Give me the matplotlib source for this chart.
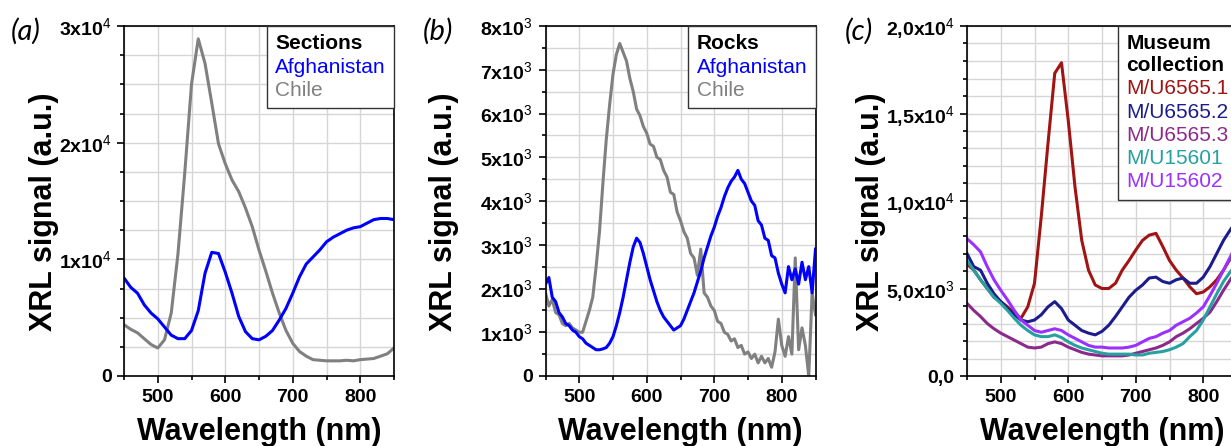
import numpy as np
import matplotlib
matplotlib.use("Agg")
import matplotlib.pyplot as plt
from matplotlib.lines import Line2D
from matplotlib.ticker import MultipleLocator, FixedLocator, FixedFormatter

plt.rcParams['font.family'] = 'Liberation Sans'
plt.rcParams['mathtext.fontset'] = 'custom'
plt.rcParams['mathtext.rm'] = 'Liberation Sans'
plt.rcParams['mathtext.it'] = 'Liberation Sans:italic'
plt.rcParams['mathtext.bf'] = 'Liberation Sans:bold'

# ---- data ----
wl_a = list(range(450, 851, 10))
a_chile = [4.4, 4.0, 3.7, 3.2, 2.7, 2.4, 3.1, 5.4, 10.5, 17.4, 25.0, 28.9, 26.8, 23.4,
           19.9, 18.2, 16.8, 15.8, 14.4, 12.8, 10.8, 9.0, 7.1, 5.4, 3.9, 2.8, 2.1, 1.7,
           1.4, 1.35, 1.3, 1.3, 1.3, 1.35, 1.3, 1.4, 1.45, 1.5, 1.7, 1.9, 2.4]
a_afgh = [8.4, 7.6, 7.1, 6.1, 5.4, 4.9, 4.2, 3.5, 3.2, 3.2, 3.9, 5.6, 8.8, 10.6, 10.5,
          8.9, 7.1, 5.1, 3.8, 3.2, 3.1, 3.4, 3.9, 4.8, 5.8, 7.1, 8.5, 9.6, 10.2, 10.8,
          11.5, 11.9, 12.2, 12.5, 12.7, 12.8, 13.1, 13.4, 13.5, 13.5, 13.4]

wl_b = list(range(450, 851, 5))
b_chile = [1.9, 1.6, 1.75, 1.45, 1.4, 1.2, 1.15, 1.2, 1.1, 1.05, 1.0, 1.0, 1.25, 1.5,
           1.8, 2.5, 3.3, 4.4, 5.4, 6.2, 6.9, 7.35, 7.6, 7.4, 7.2, 6.8, 6.5, 6.1, 5.95,
           5.7, 5.55, 5.3, 5.25, 5.0, 4.95, 4.7, 4.55, 4.2, 4.15, 3.75, 3.55, 3.3, 3.15,
           2.8, 2.7, 2.3, 2.9, 1.9, 1.8, 1.6, 1.5, 1.25, 1.2, 1.0, 0.95, 0.8, 0.85, 0.65,
           0.7, 0.5, 0.55, 0.4, 0.5, 0.3, 0.45, 0.3, 0.4, 0.2, 0.55, 1.3, 0.7, 0.45, 0.9,
           0.5, 2.7, 0.6, 1.1, 0.7, 0.0, 1.9, 1.4]
b_afgh = [2.1, 2.25, 1.8, 1.7, 1.45, 1.35, 1.2, 1.15, 1.05, 1.0, 0.9, 0.85, 0.75, 0.7,
          0.65, 0.6, 0.6, 0.62, 0.65, 0.75, 0.9, 1.15, 1.45, 1.8, 2.2, 2.6, 2.95, 3.15,
          3.05, 2.8, 2.5, 2.2, 1.95, 1.7, 1.5, 1.35, 1.25, 1.15, 1.05, 1.1, 1.15, 1.3,
          1.5, 1.7, 1.9, 2.15, 2.4, 2.7, 2.95, 3.2, 3.4, 3.65, 3.85, 4.1, 4.3, 4.45,
          4.55, 4.7, 4.5, 4.4, 4.2, 4.0, 3.9, 3.55, 3.45, 3.15, 3.1, 2.75, 2.7, 2.35,
          2.1, 1.9, 2.5, 2.2, 2.45, 2.1, 2.6, 2.2, 2.5, 1.9, 2.9]

wl_c = list(range(450, 851, 10))
c_u65651 = [6.4, 6.05, 5.5, 5.0, 4.5, 4.25, 3.95, 3.6, 3.3, 3.95, 5.3, 9.1, 13.3, 17.3,
            17.9, 14.6, 10.8, 7.75, 6.05, 5.2, 5.0, 5.0, 5.3, 6.05, 6.6, 7.2, 7.75, 8.05,
            8.15, 7.4, 6.6, 6.05, 5.6, 5.1, 4.7, 4.8, 5.1, 5.5, 6.05, 6.7, 7.4]
c_u65652 = [7.0, 6.25, 6.05, 5.3, 4.7, 4.25, 3.85, 3.5, 3.2, 3.1, 3.2, 3.5, 3.95, 4.25,
            3.85, 3.2, 2.9, 2.6, 2.45, 2.35, 2.55, 2.9, 3.4, 3.95, 4.5, 4.9, 5.2, 5.6,
            5.65, 5.4, 5.3, 5.5, 5.6, 5.3, 5.3, 5.65, 6.25, 7.0, 7.75, 8.35, 8.9]
c_u65653 = [4.15, 3.75, 3.4, 3.0, 2.7, 2.45, 2.25, 2.05, 1.85, 1.65, 1.6, 1.65, 1.85,
            1.95, 1.85, 1.65, 1.5, 1.35, 1.25, 1.2, 1.15, 1.15, 1.15, 1.15, 1.2, 1.3,
            1.4, 1.5, 1.6, 1.75, 1.95, 2.25, 2.45, 2.7, 3.0, 3.3, 3.65, 4.25, 4.9, 5.5, 6.05]
c_u15601 = [6.6, 6.05, 5.5, 5.0, 4.5, 4.15, 3.75, 3.3, 2.9, 2.6, 2.35, 2.25, 2.25, 2.35,
            2.2, 1.95, 1.75, 1.6, 1.5, 1.4, 1.3, 1.25, 1.25, 1.25, 1.25, 1.2, 1.2, 1.3,
            1.35, 1.4, 1.5, 1.65, 1.85, 2.25, 2.6, 3.2, 3.95, 4.7, 5.4, 5.95, 6.4]
c_u15602 = [7.85, 7.5, 7.1, 6.25, 5.5, 4.9, 4.35, 3.75, 3.2, 2.9, 2.6, 2.5, 2.6, 2.7,
            2.6, 2.35, 2.15, 1.95, 1.75, 1.65, 1.65, 1.6, 1.6, 1.6, 1.65, 1.75, 1.95,
            2.15, 2.25, 2.45, 2.6, 2.9, 3.1, 3.3, 3.6, 3.95, 4.6, 5.3, 6.05, 6.8, 7.6]

x_ticks = [500, 600, 700, 800]
a_yticks = [0, 10000, 20000, 30000]
a_ylabels = ['0', r'1x10$^{4}$', r'2x10$^{4}$', r'3x10$^{4}$']
b_yticks = [0, 1000, 2000, 3000, 4000, 5000, 6000, 7000, 8000]
b_ylabels = ['0'] + [r'%dx10$^{3}$' % k for k in range(1, 9)]
c_yticks = [0, 5000, 10000, 15000, 20000]
c_ylabels = ['0,0', r'5,0x10$^{3}$', r'1,0x10$^{4}$', r'1,5x10$^{4}$', r'2,0x10$^{4}$']

fig = plt.figure(figsize=(12.31, 4.46), dpi=100)
W, H = 1231.0, 446.0


def make_axes(left_px, ymax, yminor, yticks, ylabels, label_x):
    ax = fig.add_axes([left_px / W, 70 / H, 270 / W, 350 / H])
    ax.set_xlim(450, 850)
    ax.set_ylim(0, ymax)
    ax.xaxis.set_major_locator(FixedLocator(x_ticks))
    ax.xaxis.set_minor_locator(MultipleLocator(50))
    ax.yaxis.set_major_locator(FixedLocator(yticks))
    ax.yaxis.set_major_formatter(FixedFormatter(ylabels))
    ax.yaxis.set_minor_locator(MultipleLocator(yminor))
    ax.grid(True, which='both', color='#d6d6d6', lw=1)
    ax.set_axisbelow(True)
    ax.tick_params(which='both', direction='out', top=False, right=False,
                   labelsize=14, width=1.2)
    ax.tick_params(which='major', length=5, pad=4)
    ax.tick_params(which='minor', length=3)
    for lab in ax.get_xticklabels() + ax.get_yticklabels():
        lab.set_fontweight('bold')
    for s in ax.spines.values():
        s.set_linewidth(1.2)
    ax.set_xlabel('Wavelength (nm)', fontsize=22, fontweight='bold')
    ax.set_ylabel('XRL signal (a.u.)', fontsize=22, fontweight='bold')
    ax.xaxis.set_label_coords(0.5, -0.118)
    ax.yaxis.set_label_coords(label_x, 0.47)
    return ax


def add_box(ax, title, labels, colors):
    handles = [Line2D([], [], color='none') for _ in labels]
    leg = ax.legend(handles, labels, loc='upper right', borderaxespad=0,
                    handlelength=0, handletextpad=0, labelspacing=0.2,
                    fontsize=15, title=title, alignment='left',
                    title_fontproperties={'weight': 'bold', 'size': 15},
                    fancybox=False, framealpha=1, edgecolor='#333333',
                    borderpad=0.4)
    leg.get_frame().set_linewidth(1)
    for t, c in zip(leg.get_texts(), colors):
        t.set_color(c)
    return leg


# (a) sections
ax1 = make_axes(124, 30000, 2500, a_yticks, a_ylabels, -0.24)
ax1.plot(wl_a, np.array(a_chile) * 1000, color='#808080', lw=2.2)
ax1.plot(wl_a, np.array(a_afgh) * 1000, color='#0000ff', lw=2.2)
add_box(ax1, 'Sections', ['Afghanistan', 'Chile'], ['#0000ff', '#808080'])

# (b) rocks
ax2 = make_axes(545.5, 8000, 500, b_yticks, b_ylabels, -0.32)
ax2.plot(wl_b, np.array(b_chile) * 1000, color='#808080', lw=2.2)
ax2.plot(wl_b, np.array(b_afgh) * 1000, color='#0000ff', lw=2.2)
add_box(ax2, 'Rocks', ['Afghanistan', 'Chile'], ['#0000ff', '#808080'])

# (c) museum collection
c_names = ['M/U6565.1', 'M/U6565.2', 'M/U6565.3', 'M/U15601', 'M/U15602']
c_colors = ['#a01414', '#1c1c8c', '#8c2a8c', '#26a0a0', '#9b30ff']
c_series = [c_u65651, c_u65652, c_u65653, c_u15601, c_u15602]
ax3 = make_axes(967, 20000, 1000, c_yticks, c_ylabels, -0.30)
for ys, col in zip(c_series, c_colors):
    ax3.plot(wl_c, np.array(ys) * 1000, color=col, lw=2.2)
add_box(ax3, 'Museum\ncollection', c_names, c_colors)

for x_px, txt in [(11, '(a)'), (423, '(b)'), (845, '(c)')]:
    fig.text(x_px / W, 1 - 31 / H, txt, fontsize=21, style='italic',
             family='Lato', va='center', ha='left')

fig.savefig('out.png', dpi=100)
